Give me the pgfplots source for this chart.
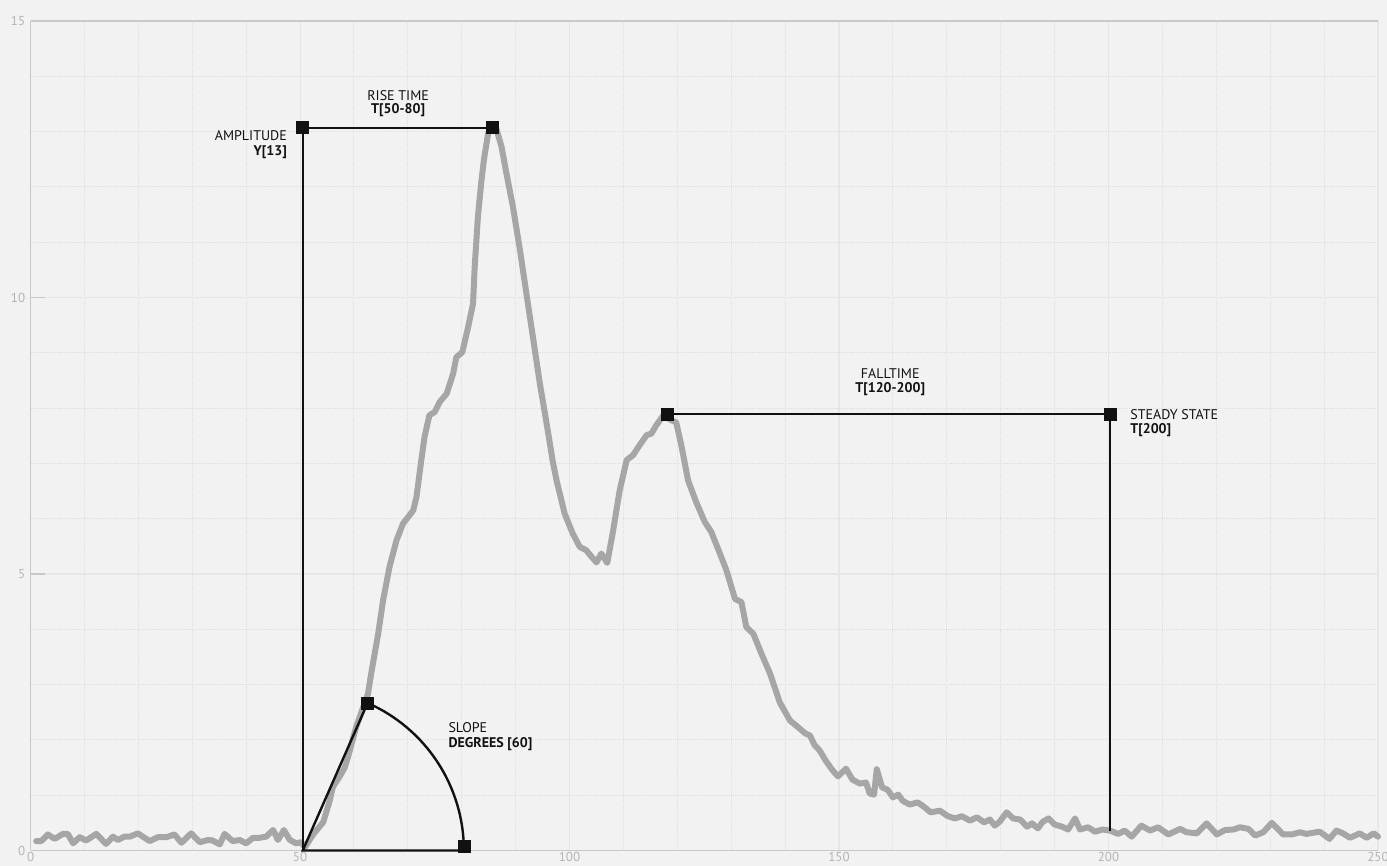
\documentclass[border=0pt]{standalone}
\usepackage{pgfplots}
\pgfplotsset{compat=1.18}
\usepackage{fontspec}
\setmainfont{PT Sans}

\definecolor{bgc}{HTML}{F2F2F2}
\definecolor{curvec}{HTML}{A6A6A6}
\definecolor{axisc}{HTML}{C8C8C8}
\definecolor{tickc}{HTML}{B4B4B4}
\definecolor{majgrid}{HTML}{E6E6E6}
\definecolor{mingrid}{HTML}{E0E0E0}
\definecolor{annc}{HTML}{111111}

\pgfdeclarelayer{background}
\pgfsetlayers{background,main}

\begin{document}
\begin{tikzpicture}
\begin{axis}[
    scale only axis,
    width=1010pt, height=621.75pt,
    xmin=0, xmax=250, ymin=0, ymax=15,
    xtick={0,50,100,150,200,250},
    ytick={0,5,10,15},
    minor x tick num=4,
    minor y tick num=4,
    grid=both,
    major grid style={solid, majgrid, line width=0.8pt},
    minor grid style={densely dotted, mingrid, line width=0.7pt},
    axis x line*=bottom,
    axis y line*=left,
    axis line style={axisc, line width=0.9pt},
    tick align=inside,
    xtick style={draw=none},
    ytick style={axisc, line width=0.9pt},
    major tick length=10.5pt,
    minor tick length=0pt,
    tick label style={tickc, font=\fontsize{9.75}{10}\selectfont},
    /pgf/number format/assume math mode=true,
    yticklabel style={xshift=-0.5pt},
    xticklabel style={yshift=2pt},
    clip=false,
]
% signal
\addplot[curvec, line width=4.5pt, line join=round, line cap=round] coordinates {
(1.05,0.17)(2,0.17)(3.2,0.29)(4.5,0.21)(6,0.3)(6.9,0.3)(7.9,0.13)(9.1,0.24)(10.3,0.18)
(12.2,0.3)(14,0.12)(15.3,0.25)(16.2,0.19)(17.4,0.25)(18.4,0.25)(19.9,0.31)(22.1,0.17)
(23.6,0.24)(25.2,0.24)(26.7,0.29)(28,0.14)(29.8,0.31)(31.4,0.15)(32.9,0.19)(33.8,0.18)
(35.1,0.11)(36,0.3)(37.5,0.17)(38.8,0.19)(40,0.13)(41.3,0.23)(42.5,0.23)(43.7,0.25)
(45,0.37)(45.9,0.19)(47,0.37)(48.1,0.19)(49.3,0.13)(50.2,0.15)
(50.9,0.06)(52.5,0.3)(54.3,0.51)(55.5,0.9)(56.1,1.15)(57.3,1.33)(58.3,1.5)(58.9,1.69)
(60.4,2.23)(62.6,2.83)(63.2,3.2)(64.5,3.92)(65.4,4.52)(66.6,5.13)(67.9,5.61)(69.1,5.91)
(71,6.15)(71.6,6.39)(72.5,7.06)(73.1,7.48)(74,7.87)(75,7.93)(75.9,8.11)(77.2,8.26)
(78.4,8.62)(79,8.92)(80.1,9.01)(81.2,9.47)(82.1,9.89)(82.4,10.55)(83,11.46)(83.6,12.06)
(84.1,12.48)(84.9,12.97)(85.5,13.09)(86.4,13.06)(87.4,12.72)(88.3,12.24)(89.5,11.64)
(90.8,10.86)(92,10.07)(93.2,9.29)(94.5,8.44)(95.7,7.75)(96.9,7.03)(97.6,6.69)(99.1,6.09)
(100.6,5.73)(101.9,5.49)(103.1,5.43)(104.1,5.31)(105,5.21)(105.9,5.37)(107,5.2)(108.1,5.79)
(109.3,6.51)(110.6,7.06)(111.8,7.15)(113,7.33)(114.3,7.51)(115.2,7.54)(116.1,7.69)
(117.4,7.87)(118.3,7.81)(119.8,7.74)(120.8,7.3)(122,6.69)(123.5,6.3)(125.1,5.94)
(126.3,5.76)(127.9,5.37)(129.1,5.07)(130.7,4.55)(131.9,4.49)(132.8,4.04)(134.1,3.92)
(135.6,3.56)(137.2,3.2)(139,2.68)(140.9,2.35)(142.4,2.23)(143.7,2.12)(144.6,2.08)
(145.5,1.9)(146.4,1.81)(147.5,1.63)(148.8,1.45)(149.8,1.34)(151.3,1.48)(152.5,1.28)
(153.9,1.21)(155,1.23)(155.7,1.03)(156.5,1.01)(157,1.47)(158,1.14)(159,1.1)(160,0.96)
(161,1.01)(161.8,0.9)(163.1,0.83)(164.6,0.87)(165.9,0.78)(167,0.69)(168.7,0.72)
(170.2,0.62)(171.5,0.58)(172.8,0.62)(174.3,0.54)(175.6,0.6)(176.9,0.51)(178,0.56)
(178.9,0.45)(179.8,0.52)(181.1,0.69)(182.3,0.58)(183.6,0.56)(184.9,0.43)(185.8,0.49)
(186.9,0.4)(187.8,0.52)(188.9,0.58)(190,0.47)(191.4,0.43)(192.5,0.38)(193.8,0.58)
(194.7,0.38)(196.2,0.42)(197.5,0.34)(198.9,0.38)(200.3,0.36)(201.8,0.3)(203,0.36)
(204.3,0.25)(206.1,0.45)(207.7,0.36)(209.2,0.42)(211.1,0.29)(213.3,0.39)(214.5,0.33)
(216.4,0.31)(218.2,0.49)(220.1,0.29)(221.6,0.37)(223.2,0.38)(224.4,0.42)(226,0.39)
(227.2,0.27)(228.7,0.33)(230.3,0.5)(232.4,0.29)(234,0.29)(235.5,0.33)(236.7,0.3)
(239.2,0.34)(241,0.21)(242.3,0.36)(243.5,0.31)(244.8,0.23)(246.6,0.31)(247.9,0.23)
(249.2,0.31)(250,0.25)
};

% annotation lines
\addplot[annc, line width=1.8pt] coordinates {(50.5,0) (50.5,13.07) (85.6,13.07)};
\addplot[annc, line width=1.8pt] coordinates {(118.1,7.89) (200.3,7.89) (200.3,0.36)};
\addplot[annc, line width=1.8pt] coordinates {(62.5,2.66) (50.5,0) (80.4,0)};
\draw[annc, line width=1.8pt] (axis cs:80.4,0) arc[start angle=0, end angle=66.3, radius=120.8pt];

% square markers
\addplot[only marks, mark=square*, mark size=4.5pt, annc] coordinates {
(50.5,13.07)(85.6,13.07)(118.1,7.89)(200.3,7.89)(62.5,2.66)(80.4,0.08)};

% labels
\path[font=\fontsize{10.5}{11}\selectfont, text=annc, inner sep=0pt]
  (axis cs:68.2,13.66) node {RISE TIME}
  (axis cs:68.2,13.38) node {\bfseries T[50-80]}
  (axis cs:47.6,12.92) node[anchor=east] {AMPLITUDE}
  (axis cs:47.6,12.63) node[anchor=east] {\bfseries Y[13]}
  (axis cs:159.5,8.63) node {FALLTIME}
  (axis cs:159.5,8.35) node {\bfseries T[120-200]}
  (axis cs:204,7.89) node[anchor=west] {STEADY STATE}
  (axis cs:204,7.60) node[anchor=west] {\bfseries T[200]}
  (axis cs:77.5,2.22) node[anchor=west] {SLOPE}
  (axis cs:77.5,1.93) node[anchor=west] {\bfseries DEGREES [60]};

\draw[axisc, line width=0.9pt] (rel axis cs:0,1) -- (rel axis cs:1,1);

\coordinate (bl) at ([xshift=-22.9pt,yshift=-11.25pt]rel axis cs:0,0);
\coordinate (tr) at ([xshift=6.75pt,yshift=15.75pt]rel axis cs:1,1);
\end{axis}
\begin{pgfonlayer}{background}
\fill[bgc] (bl) rectangle (tr);
\end{pgfonlayer}
\pgfresetboundingbox
\useasboundingbox (bl) rectangle (tr);
\end{tikzpicture}
\end{document}
